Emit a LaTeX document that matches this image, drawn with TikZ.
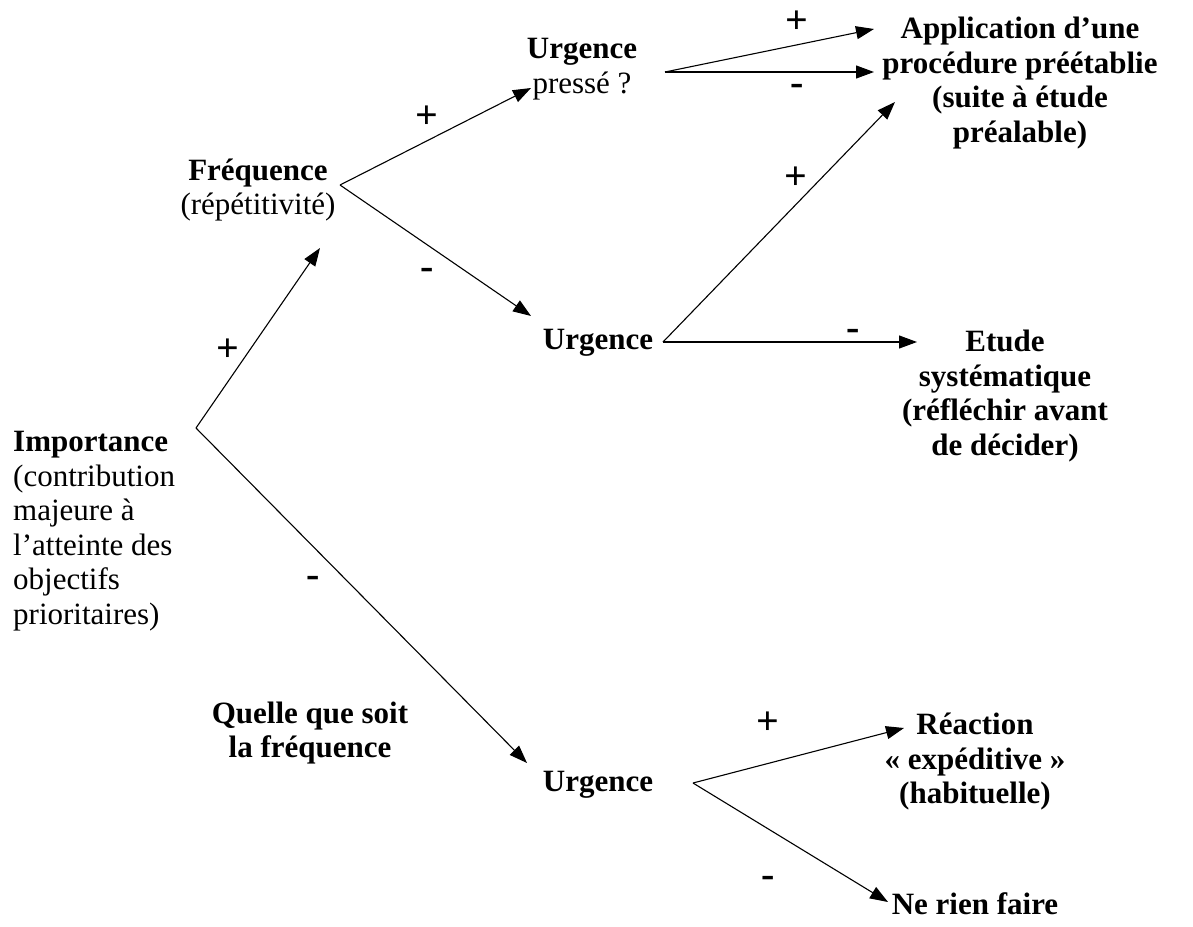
\documentclass[tikz,border=0pt]{standalone}
\usepackage{fontspec}
\setmainfont{Liberation Serif}
\usetikzlibrary{arrows.meta}
\begin{document}
\begin{tikzpicture}[x=1pt,y=-1pt,
  txt/.style={inner sep=0pt, align=center, font=\fontsize{31}{34.5}\selectfont},
  btxt/.style={txt, font=\fontsize{31}{34.5}\selectfont\bfseries},
  sign/.style={inner sep=0pt, font=\fontsize{40}{40}\selectfont\bfseries},
  arr/.style={line width=1.1pt, -{Triangle[length=18pt,width=13pt]}}]
\useasboundingbox[fill=white] (0,0) rectangle (1193,926);
% nodes
\node[txt, anchor=west, align=left] (imp) at (13,531) {\textbf{Importance}\\(contribution\\majeure à\\l’atteinte des\\objectifs\\prioritaires)};
\node[txt] (freq) at (258,190) {\textbf{Fréquence}\\(répétitivité)};
\node[txt] (urg1) at (582,69) {\textbf{Urgence}\\pressé ?};
\node[btxt] (app) at (1020,83) {Application d’une\\procédure préétablie\\(suite à étude\\préalable)};
\node[btxt] (urg2) at (598,343) {Urgence};
\node[btxt] (etude) at (1005,396) {Etude\\systématique\\(réfléchir avant\\de décider)};
\node[btxt] (quelle) at (310,733) {Quelle que soit\\la fréquence};
\node[btxt] (urg3) at (598,785) {Urgence};
\node[btxt] (react) at (975,762) {Réaction\\« expéditive »\\(habituelle)};
\node[btxt] (rien) at (975,904) {Ne rien faire};
% branch points and arrow tips
\coordinate (bImp) at (196,428);
\coordinate (tFreq) at (320,248);
\coordinate (tUrg3) at (527,763);
\coordinate (bFreq) at (340,185);
\coordinate (tUrg1) at (531,88);
\coordinate (tUrg2) at (531,316);
\coordinate (bUrg1) at (665,72);
\coordinate (tApp1) at (874,29);
\coordinate (tApp2) at (874,72);
\coordinate (bUrg2) at (663,342);
\coordinate (tApp3) at (895,102);
\coordinate (tEtude) at (917,342);
\coordinate (bUrg3) at (693,783);
\coordinate (tReact) at (904,728);
\coordinate (tRien) at (888,902);
% connectors
\draw[arr] (bImp) -- (tFreq);
\draw[arr] (bImp) -- (tUrg3);
\draw[arr] (bFreq) -- (tUrg1);
\draw[arr] (bFreq) -- (tUrg2);
\draw[arr] (bUrg1) -- (tApp1);
\draw[arr] (bUrg1) -- (tApp2);
\draw[arr] (bUrg2) -- (tApp3);
\draw[arr] (bUrg2) -- (tEtude);
\draw[arr] (bUrg3) -- (tReact);
\draw[arr] (bUrg3) -- (tRien);
% signs
\node[sign] (s1) at (228,350) {+};
\node[sign] (s2) at (313,582) {-};
\node[sign] (s3) at (427,117) {+};
\node[sign] (s4) at (427,274) {-};
\node[sign] (s5) at (797,22) {+};
\node[sign] (s6) at (797,90) {-};
\node[sign] (s7) at (796,178) {+};
\node[sign] (s8) at (853,335) {-};
\node[sign] (s9) at (768,723) {+};
\node[sign] (s10) at (768,882) {-};
\end{tikzpicture}
\end{document}
